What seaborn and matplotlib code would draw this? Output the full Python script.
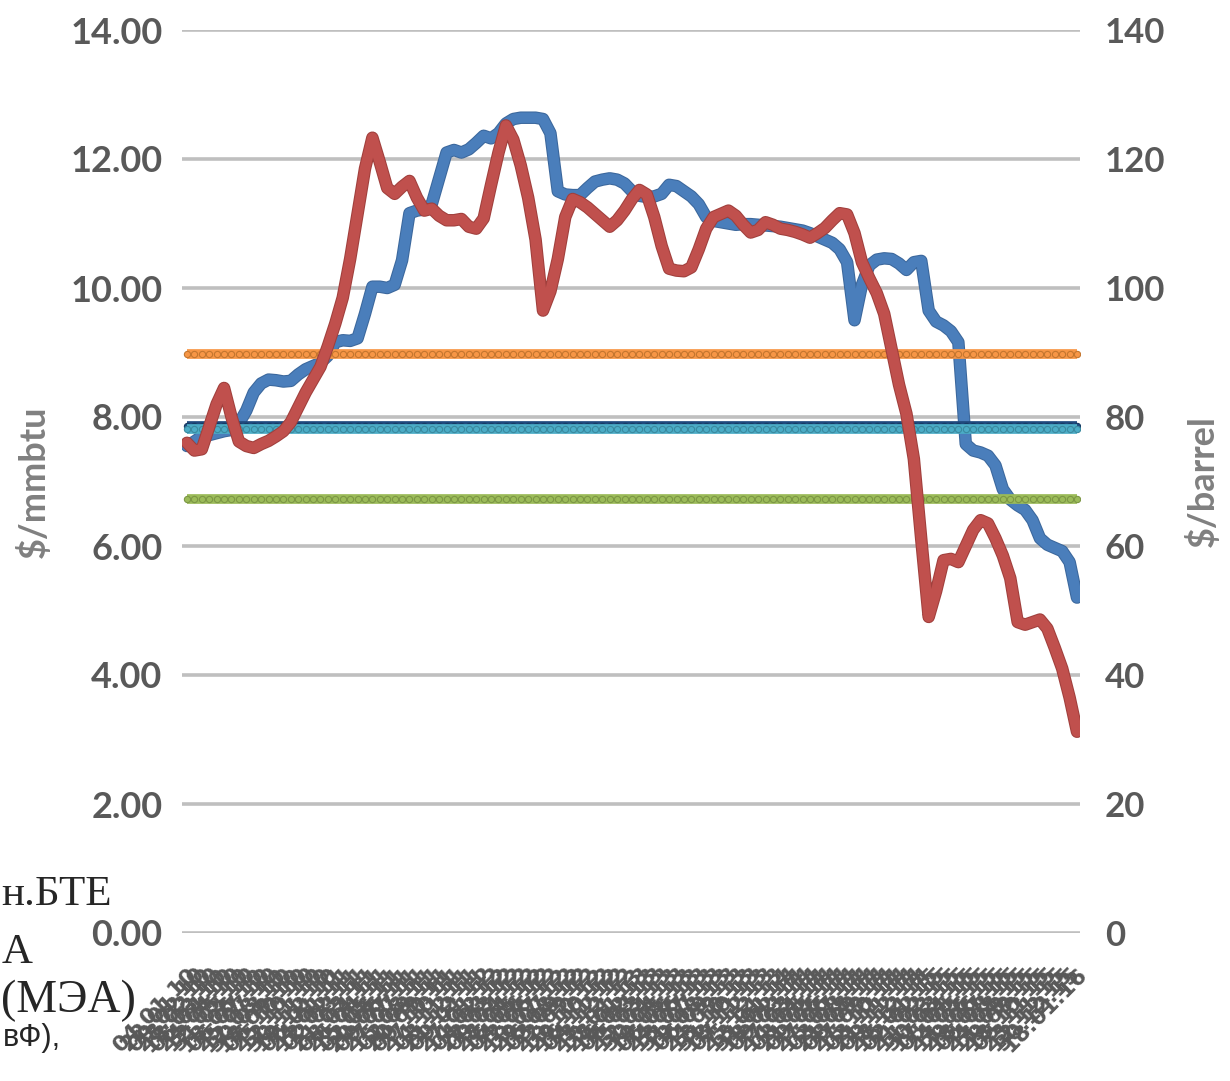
import numpy as np
import pandas as pd
import seaborn as sns
import matplotlib.pyplot as plt
import matplotlib.patheffects as pe

# LNG price, $/mmbtu (left axis)
lng = [7.55, 7.62, 7.70, 7.72, 7.75, 7.78, 7.80, 7.90, 8.10, 8.38,
       8.52, 8.58, 8.57, 8.55, 8.56, 8.66, 8.74, 8.79, 8.84, 8.95,
       9.16, 9.19, 9.18, 9.22, 9.60, 10.02, 10.02, 10.00, 10.05, 10.43,
       11.16, 11.20, 11.22, 11.30, 11.70, 12.10, 12.14, 12.10, 12.15, 12.25,
       12.36, 12.32, 12.40, 12.55, 12.62, 12.64, 12.64, 12.64, 12.62, 12.40,
       11.50, 11.45, 11.44, 11.44, 11.55, 11.65, 11.68, 11.70, 11.68, 11.62,
       11.50, 11.43, 11.41, 11.42, 11.46, 11.60, 11.58, 11.50, 11.42, 11.30,
       11.10, 11.04, 11.02, 11.00, 10.98, 10.99, 10.99, 10.98, 10.97, 10.96,
       10.95, 10.93, 10.91, 10.89, 10.85, 10.80, 10.75, 10.70, 10.60, 10.40,
       9.50, 10.05, 10.35, 10.44, 10.46, 10.45, 10.38, 10.28, 10.40, 10.42,
       9.65, 9.48, 9.42, 9.33, 9.16, 7.58, 7.48, 7.45, 7.40, 7.25,
       6.88, 6.72, 6.63, 6.56, 6.40, 6.12, 6.02, 5.97, 5.92, 5.75,
       5.20]

# oil price, $/barrel (right axis)
oil = [76.0, 74.8, 75.0, 78.5, 82.0, 84.5, 80.0, 76.2, 75.5, 75.2,
       75.8, 76.3, 77.0, 77.8, 79.2, 81.5, 83.8, 85.8, 87.8, 91.0,
       94.5, 98.5, 104.5, 111.5, 118.5, 123.3, 119.5, 115.5, 114.6, 115.7,
       116.6, 114.0, 112.0, 112.3, 111.2, 110.5, 110.5, 110.7, 109.5, 109.2,
       110.8, 116.0, 121.0, 125.2, 123.0, 119.0, 114.0, 107.5, 96.5, 99.5,
       104.5, 111.0, 113.8, 113.3, 112.5, 111.5, 110.5, 109.5, 110.5, 112.0,
       113.8, 115.2, 114.5, 111.0, 106.5, 103.0, 102.7, 102.6, 103.2, 106.0,
       109.2, 111.0, 111.5, 112.0, 111.2, 109.8, 108.6, 109.0, 110.2, 109.8,
       109.2, 109.0, 108.7, 108.3, 107.8, 108.5, 109.3, 110.5, 111.6, 111.4,
       108.5, 104.0, 101.5, 99.2, 96.0, 90.5, 85.0, 80.5, 73.5, 61.0,
       49.0, 53.0, 57.8, 58.0, 57.5, 60.0, 62.5, 64.0, 63.5, 61.2,
       58.5, 55.0, 48.2, 47.8, 48.2, 48.6, 47.2, 44.2, 41.0, 36.5,
       31.2]

# flat reference levels, $/mmbtu
ref_levels = [8.98, 7.86, 7.82, 6.73]
ref_colors = ['#F79646', '#1F497D', '#4BACC6', '#9BBB59']
ref_edges = ['#c4762f', '#163a63', '#3a8aa0', '#7c9745']

dates = pd.date_range('2010-01-04', '2016-01-18', periods=len(lng))
x_labels = dates.strftime('%d.%m.%y').tolist()

left_ticks = [0, 2, 4, 6, 8, 10, 12, 14]
right_ticks = [0, 20, 40, 60, 80, 100, 120, 140]

sns.set_style('white')
plt.rcParams['font.family'] = ['Lato', 'DejaVu Sans']

fig = plt.figure(figsize=(12.3, 10.81), dpi=100)
ax = fig.add_axes([182 / 1230, 1 - 933 / 1081, 898 / 1230, 903 / 1081])
ax2 = ax.twinx()

x = np.arange(len(lng))
grey = '#595959'

for y in left_ticks:
    ax.axhline(y, color='#bfbfbf', lw=2.6, zorder=0)

sns.lineplot(x=x, y=lng, ax=ax, color='#4A7EBB', lw=7.5, zorder=2,
             path_effects=[pe.withStroke(linewidth=9, foreground='#3b679c')])

for lvl, c, ec in zip(ref_levels, ref_colors, ref_edges):
    ax.plot(x, [lvl] * len(x), color=c, lw=7, marker='o', ms=4.5,
            mfc=c, mec=ec, mew=0.8, zorder=3, solid_capstyle='butt')

sns.lineplot(x=x, y=oil, ax=ax2, color='#C0504D', lw=7.5, zorder=4,
             path_effects=[pe.withStroke(linewidth=9, foreground='#a03f3c')])

ax.set_xlim(-0.67, len(lng) - 1 + 0.4)
ax.set_ylim(0, 14)
ax2.set_ylim(0, 140)

ax.set_yticks(left_ticks)
ax.set_yticklabels([f'{v:.2f}' for v in left_ticks], fontsize=26,
                   fontweight='bold', color=grey)
ax2.set_yticks(right_ticks)
ax2.set_yticklabels([str(v) for v in right_ticks], fontsize=25,
                    fontweight='bold', color=grey)
ax.tick_params(axis='y', length=0, pad=14)
ax2.tick_params(axis='y', length=0, pad=18)

ax.set_xticks(x)
ax.set_xticklabels(x_labels, rotation=45, ha='right', rotation_mode='anchor',
                   fontsize=16, fontweight='bold', color=grey,
                   family=['DejaVu Sans'])
ax.tick_params(axis='x', length=0, pad=22)

ax.set_ylabel('$/mmbtu', fontsize=26, fontweight='bold', color='#808080',
              labelpad=14)
ax2.set_ylabel('$/barrel', fontsize=26, fontweight='bold', color='#808080',
               labelpad=14)

for a in (ax, ax2):
    for s in a.spines.values():
        s.set_visible(False)
    a.grid(False)

# fragments of surrounding document text
serif = ['Liberation Serif', 'DejaVu Serif']
fig.text(0.001, 1 - 905 / 1081, 'н.БТЕ', fontsize=31, family=serif, va='baseline')
fig.text(0.001, 1 - 963 / 1081, 'А', fontsize=31, family=serif, va='baseline')
fig.text(0.001, 1 - 1012 / 1081, '(МЭА)', fontsize=33, family=serif,
         va='baseline', zorder=10)
fig.text(0.002, 1 - 1046 / 1081, 'вФ),', fontsize=22,
         family=['Liberation Sans', 'DejaVu Sans'], va='baseline', zorder=10)

fig.savefig('out.png', dpi=100)
